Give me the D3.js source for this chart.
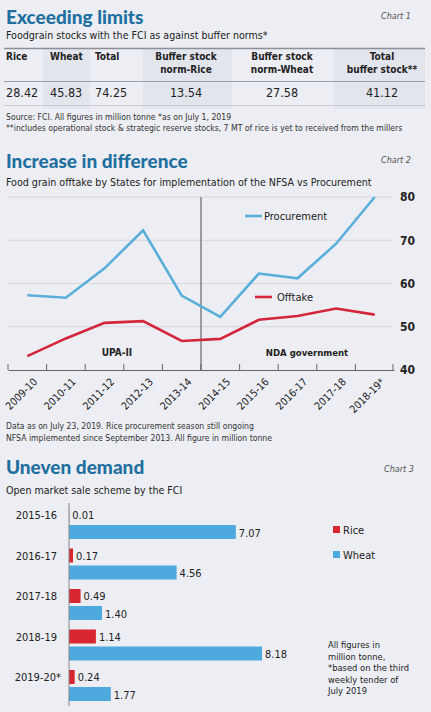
<!DOCTYPE html>
<html><head><meta charset="utf-8">
<script src="https://cdn.jsdelivr.net/npm/d3@7"></script>
<style>
html,body{margin:0;padding:0;background:#eceef3;}
svg{display:block;}
text{font-family:"Liberation Sans Narrow","DejaVu Sans Condensed","Roboto",sans-serif;fill:#222;}
.title{font-family:"Lato","Open Sans",sans-serif;font-weight:900;fill:#1f6fa0;font-size:19px;}
.chartno{font-style:italic;font-size:9px;fill:#555;}
.sub{font-size:10.6px;}
.hdr{font-weight:bold;font-size:10px;}
.val{font-size:12.5px;}
.note{font-size:8.6px;fill:#333;}
</style></head>
<body>
<svg id="c" width="431" height="712"></svg>
<script>
// ---------- Data ----------
const tableHeaders = [["Rice"],["Wheat"],["Total"],["Buffer stock","norm-Rice"],["Buffer stock","norm-Wheat"],["Total","buffer stock**"]];
const tableValues = [28.42, 45.83, 74.25, 13.54, 27.58, 41.12];

const years = ["2009-10","2010-11","2011-12","2012-13","2013-14","2014-15","2015-16","2016-17","2017-18","2018-19*"];
const procurement = [57.3, 56.7, 63.5, 72.3, 57.2, 52.3, 62.3, 61.2, 69.2, 80.0];
const offtake = [43.2, 47.3, 50.9, 51.3, 46.7, 47.2, 51.6, 52.5, 54.2, 52.8];
const yTicks = [40, 50, 60, 70, 80];

const omssYears = ["2015-16","2016-17","2017-18","2018-19","2019-20*"];
const riceSale = [0.01, 0.17, 0.49, 1.14, 0.24];
const wheatSale = [7.07, 4.56, 1.40, 8.18, 1.77];

const svg = d3.select("#c");
const BLUE = "#5aaed9", RED = "#d3263a", BARBLUE = "#4ea9de", BARRED = "#d82630";

// ---------- Chart 1: table ----------
svg.append("text").attr("class","title").attr("x",6).attr("y",24).text("Exceeding limits");
svg.append("text").attr("class","chartno").attr("x",381).attr("y",19).text("Chart 1");
svg.append("text").attr("class","sub").attr("x",6).attr("y",39).text("Foodgrain stocks with the FCI as against buffer norms*");

const colX = [6, 50, 95, 186, 282, 382];
const colAnchor = ["start","start","start","middle","middle","middle"];
const shade = [[43,90],[143,232],[334,425]];
svg.selectAll("rect.shade").data(shade).join("rect").attr("class","shade")
  .attr("x",d=>d[0]).attr("y",49).attr("width",d=>d[1]-d[0]).attr("height",60)
  .attr("fill","#e2e5ec");
svg.append("line").attr("x1",4).attr("x2",425).attr("y1",48.5).attr("y2",48.5).attr("stroke","#8a8f99").attr("stroke-width",1.5);
svg.append("line").attr("x1",4).attr("x2",425).attr("y1",81.5).attr("y2",81.5).attr("stroke","#9a9ea8").attr("stroke-width",1.2);
svg.append("line").attr("x1",4).attr("x2",425).attr("y1",105.5).attr("y2",105.5).attr("stroke","#c9ccd3").attr("stroke-width",1);
tableHeaders.forEach((h,i)=>{
  h.forEach((line,j)=>{
    svg.append("text").attr("class","hdr").attr("x",colX[i]).attr("y",60+j*12.5)
      .attr("text-anchor",colAnchor[i]).text(line);
  });
});
svg.selectAll("text.tv").data(tableValues).join("text").attr("class","val tv")
  .attr("x",(d,i)=>colX[i]).attr("y",97).attr("text-anchor",(d,i)=>colAnchor[i])
  .text(d=>d.toFixed(2));
svg.append("text").attr("class","note").attr("x",6).attr("y",120).text("Source: FCI. All figures in million tonne *as on July 1, 2019");
svg.append("text").attr("class","note").attr("x",6).attr("y",131).text("**includes operational stock & strategic reserve stocks, 7 MT of rice is yet to received from the millers");

// ---------- Chart 2: lines ----------
svg.append("text").attr("class","title").attr("x",6).attr("y",168).text("Increase in difference");
svg.append("text").attr("class","chartno").attr("x",381).attr("y",163).text("Chart 2");
svg.append("text").attr("class","sub").attr("x",6).attr("y",186).text("Food grain offtake by States for implementation of the NFSA vs Procurement");

const x2 = d3.scaleBand().domain(years).range([8,394]);
const y2 = d3.scaleLinear().domain([40,80]).range([370,197]);

svg.append("g").selectAll("line").data(yTicks.filter(t=>t>40)).join("line")
  .attr("x1",7).attr("x2",393).attr("y1",d=>y2(d)).attr("y2",d=>y2(d))
  .attr("stroke","#d3d6dd").attr("stroke-width",1);
const yAx = svg.append("g").attr("transform","translate(396,0)")
  .call(d3.axisRight(y2).tickValues(yTicks).tickSize(0).tickPadding(4));
yAx.select(".domain").remove();
yAx.selectAll("text").style("font-family","'Liberation Sans Narrow','DejaVu Sans Condensed',sans-serif")
  .style("font-size","12px").style("font-weight","bold").attr("fill","#333");

svg.append("line").attr("x1",x2("2014-15")).attr("x2",x2("2014-15")).attr("y1",197).attr("y2",371)
  .attr("stroke","#666").attr("stroke-width",1.2);

const xAx = svg.append("g").attr("transform","translate(0,370)")
  .call(d3.axisBottom(x2).tickSize(0).tickPadding(0));
xAx.select(".domain").attr("stroke","#666");
xAx.selectAll("text").attr("text-anchor","end")
  .attr("transform","translate(8,10) rotate(-45)").attr("dy","0.35em")
  .style("font-family","'Liberation Sans Narrow','DejaVu Sans Condensed',sans-serif")
  .style("font-size","10.5px").attr("fill","#333");
const bounds = years.map(d=>x2(d)).concat([x2.range()[1]-1]);
svg.append("g").selectAll("line").data(bounds).join("line")
  .attr("x1",d=>d).attr("x2",d=>d).attr("y1",364).attr("y2",370)
  .attr("stroke","#666").attr("stroke-width",1);

const line = d3.line().x((d,i)=>x2(years[i])+x2.bandwidth()/2).y(d=>y2(d));
svg.append("path").datum(procurement).attr("d",line).attr("fill","none")
  .attr("stroke",BLUE).attr("stroke-width",2.6);
svg.append("path").datum(offtake).attr("d",line).attr("fill","none")
  .attr("stroke",RED).attr("stroke-width",2.6);

svg.append("line").attr("x1",245).attr("x2",262).attr("y1",216).attr("y2",216).attr("stroke",BLUE).attr("stroke-width",2.6);
svg.append("text").attr("x",264).attr("y",220).style("font-size","11px").text("Procurement");
svg.append("line").attr("x1",255).attr("x2",272).attr("y1",297).attr("y2",297).attr("stroke",RED).attr("stroke-width",2.6);
svg.append("text").attr("x",277).attr("y",301).style("font-size","11px").text("Offtake");

svg.append("text").attr("x",117).attr("y",356).attr("text-anchor","middle").style("font-size","10px").style("font-weight","bold").text("UPA-II");
svg.append("text").attr("x",307).attr("y",356).attr("text-anchor","middle").style("font-size","9.5px").style("font-weight","bold").text("NDA government");

svg.append("text").attr("class","note").attr("x",6).attr("y",429).text("Data as on July 23, 2019. Rice procurement season still ongoing");
svg.append("text").attr("class","note").attr("x",6).attr("y",441).text("NFSA implemented since September 2013. All figure in million tonne");

// ---------- Chart 3: bars ----------
svg.append("text").attr("class","title").attr("x",6).attr("y",474).text("Uneven demand");
svg.append("text").attr("class","chartno").attr("x",384).attr("y",472).text("Chart 3");
svg.append("text").attr("class","sub").attr("x",6).attr("y",494).text("Open market sale scheme by the FCI");

const x3 = d3.scaleLinear().domain([0,9]).range([69, 69+9*23.6]);
const y3 = d3.scaleBand().domain(omssYears).range([508, 508+5*40.5]);
const BH = 14;

svg.selectAll("rect.rice").data(riceSale).join("rect").attr("class","rice")
  .attr("x",x3(0)).attr("y",(d,i)=>y3(omssYears[i])).attr("height",BH)
  .attr("width",d=>x3(d)-x3(0)).attr("fill",BARRED);
svg.selectAll("rect.wheat").data(wheatSale).join("rect").attr("class","wheat")
  .attr("x",x3(0)).attr("y",(d,i)=>y3(omssYears[i])+17).attr("height",BH)
  .attr("width",d=>x3(d)-x3(0)).attr("fill",BARBLUE);

svg.append("line").attr("x1",x3(0)).attr("x2",x3(0)).attr("y1",503).attr("y2",706)
  .attr("stroke","#888").attr("stroke-width",1);

svg.selectAll("text.rv").data(riceSale).join("text").attr("class","rv")
  .attr("x",d=>x3(d)+3).attr("y",(d,i)=>y3(omssYears[i])+BH/2).attr("dy","0.38em")
  .style("font-size","11px").text(d=>d.toFixed(2));
svg.selectAll("text.wv").data(wheatSale).join("text").attr("class","wv")
  .attr("x",d=>x3(d)+3).attr("y",(d,i)=>y3(omssYears[i])+17+BH/2).attr("dy","0.45em")
  .style("font-size","11px").text(d=>d.toFixed(2));
svg.selectAll("text.yl").data(omssYears).join("text").attr("class","yl")
  .attr("x",d=>d.endsWith("*")?61:57).attr("y",d=>y3(d)+BH/2).attr("dy","0.38em")
  .attr("text-anchor","end").style("font-size","11px").text(d=>d);

svg.append("rect").attr("x",333).attr("y",526).attr("width",7).attr("height",7).attr("fill",BARRED);
svg.append("text").attr("x",343).attr("y",533.5).style("font-size","11px").text("Rice");
svg.append("rect").attr("x",333).attr("y",551).attr("width",7).attr("height",7).attr("fill",BARBLUE);
svg.append("text").attr("x",343).attr("y",558.5).style("font-size","11px").text("Wheat");

const noteLines = ["All figures in","million tonne,","*based on the third","weekly tender of","July 2019"];
svg.selectAll("text.n3").data(noteLines).join("text").attr("class","n3")
  .attr("x",328).attr("y",(d,i)=>648+i*11.5).style("font-size","9.3px").attr("fill","#333").text(d=>d);
</script>
</body></html>
